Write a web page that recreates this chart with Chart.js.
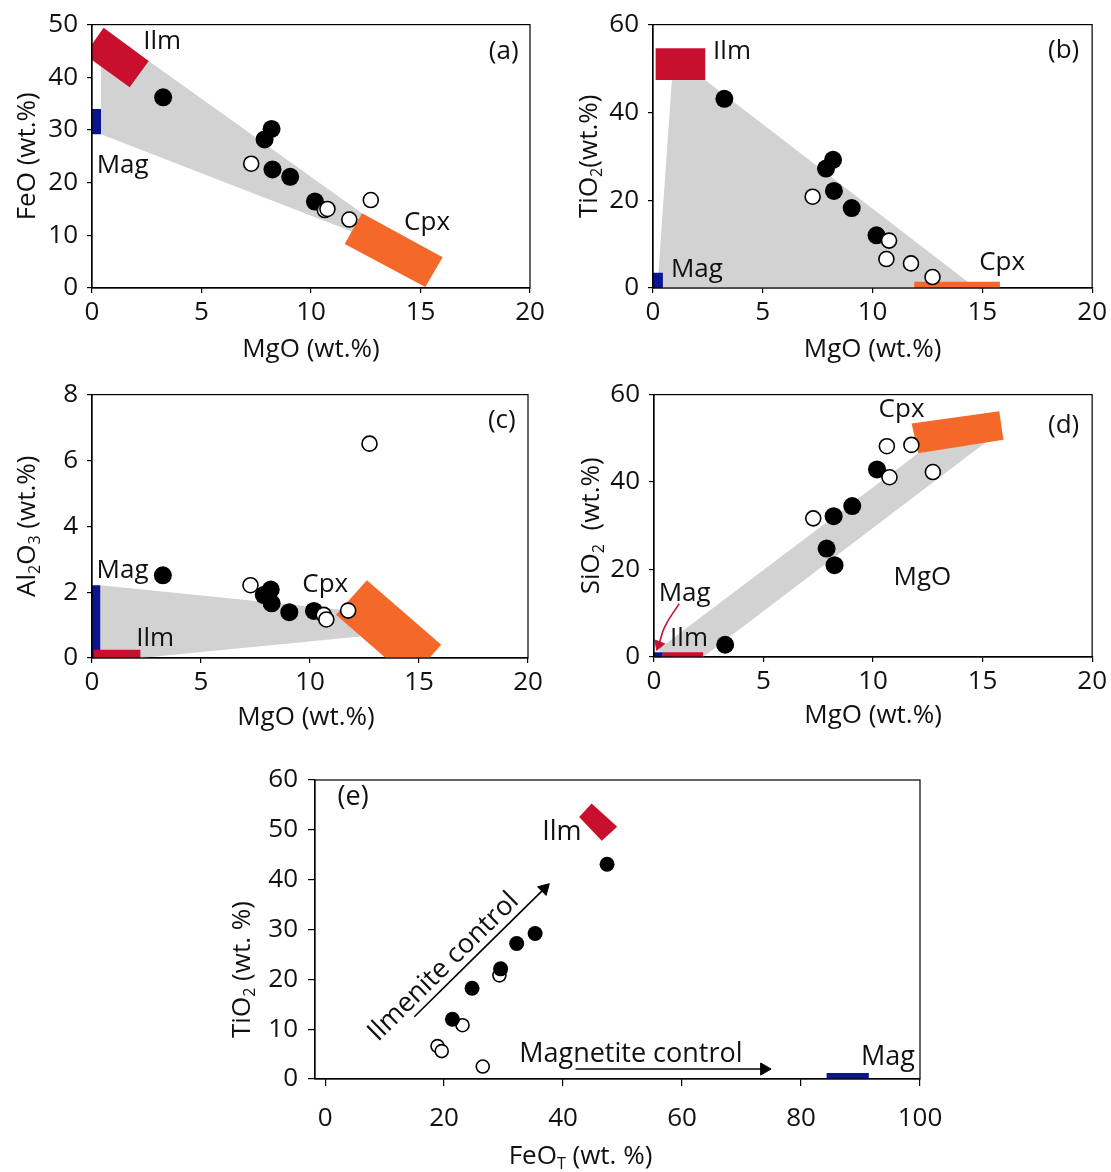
<!DOCTYPE html>
<html>
<head>
<meta charset="utf-8">
<script src="https://cdn.jsdelivr.net/npm/chart.js@4.4.1/dist/chart.umd.min.js"></script>
<style>
  body { margin: 0; background: #fff; width: 1111px; height: 1172px; position: relative; overflow: hidden; }
  canvas { position: absolute; }
</style>
</head>
<body>
<canvas id="pa" width="555" height="370" style="left:0;top:0"></canvas>
<canvas id="pb" width="551" height="370" style="left:560px;top:0"></canvas>
<canvas id="pc" width="555" height="370" style="left:0;top:370px"></canvas>
<canvas id="pd" width="551" height="370" style="left:560px;top:370px"></canvas>
<canvas id="pe" width="760" height="432" style="left:200px;top:740px"></canvas>
<script>
// samples: filled circles and open circles (same order in every panel)
const mgoFilled = [3.25, 7.88, 8.2, 8.24, 9.05, 10.18];
const mgoOpen = [7.27, 10.63, 10.75, 11.75, 12.73];
const feoFilled = [36.2, 28.2, 30.2, 22.5, 21.1, 16.4];
const feoOpen = [23.6, 14.8, 15.0, 13.0, 16.7];
const tio2Filled = [43.1, 27.2, 29.2, 22.1, 18.2, 12.0];
const tio2Open = [20.8, 6.6, 10.8, 5.6, 2.5];
const al2o3Filled = [2.51, 1.91, 2.08, 1.66, 1.39, 1.43];
const al2o3Open = [2.21, 1.31, 1.17, 1.44, 6.51];
const sio2Filled = [2.8, 24.8, 32.2, 21.0, 34.5, 42.9];
const sio2Open = [31.7, 48.2, 41.1, 48.5, 42.3];
const feotFilled = [47.4, 32.2, 35.3, 29.5, 24.7, 21.4];
const feotOpen = [29.3, 18.9, 23.1, 19.6, 26.5];

// tick labels
const mgoTicks = [0, 5, 10, 15, 20];
const feoTicks = [0, 10, 20, 30, 40, 50];
const tio2Ticks = [0, 20, 40, 60];
const al2o3Ticks = [0, 2, 4, 6, 8];
const sio2Ticks = [0, 20, 40, 60];
const feotTicks = [0, 20, 40, 60, 80, 100];
const tio2TicksE = [0, 10, 20, 30, 40, 50, 60];

// mineral end-member ranges and mixing fields (corners, wt.%)
const ilmA = [[0.53, 49.4], [2.59, 43.1], [1.72, 38.1], [-0.34, 44.3]];
const magA = [[0, 34.0], [0.41, 34.0], [0.41, 29.2], [0, 29.2]];
const cpxA = [[12.33, 14.2], [16.01, 5.85], [15.22, 0.19], [11.54, 8.36]];
const fieldA = [[0.41, 42.0], [2.59, 43.1], [12.7, 13.1], [11.95, 10.6], [0.41, 29.2]];

const ilmB = [[0.12, 54.6], [2.38, 54.6], [2.38, 47.4], [0.12, 47.4]];
const magB = [[0, 3.5], [0.45, 3.5], [0.45, 0], [0, 0]];
const cpxB = [[11.9, 1.4], [15.8, 1.4], [15.8, 0], [11.9, 0]];
const fieldB = [[0.86, 47.4], [2.38, 47.4], [14.7, 0], [0.2, 0]];

const ilmC = [[0.08, 0.25], [2.22, 0.25], [2.22, 0], [0.08, 0]];
const magC = [[0, 2.21], [0.38, 2.21], [0.38, 0], [0, 0]];
const cpxC = [[12.61, 2.36], [16.02, 0.4], [14.6, -0.65], [11.19, 1.31]];
const fieldC = [[0.38, 2.21], [11.7, 1.45], [12.3, 0.65], [2.22, 0], [0.38, 0]];

const ilmD = [[0.4, 1.1], [2.24, 1.1], [2.24, 0], [0.4, 0]];
const magD = [[0, 1.1], [0.4, 1.1], [0.4, 0], [0, 0]];
const cpxD = [[11.76, 53.4], [15.76, 56.2], [15.95, 49.7], [12.06, 46.6]];
const fieldD = [[0.2, 1.8], [12.06, 46.6], [15.3, 49.7], [2.24, 0], [0.4, 0]];
const magArrowD = [[1.15, 12.2], [0.5, 7.0], [0.22, 2.8]];

const ilmE = [[44.8, 55.3], [49.1, 50.6], [46.5, 47.8], [42.7, 52.6]];
const magE = [[84.3, 1.2], [91.4, 1.2], [91.4, 0], [84.3, 0]];
const ilmControl = [[15.0, 12.5], [36.85, 38.2]];
const magControl = [[42.1, 2.0], [73.8, 2.0]];

const FONT = '"Open Sans", "DejaVu Sans", sans-serif';
const INK = '#111';
const RED = '#c8102e', BLUE = '#0b1590', ORANGE = '#f4692a', GREY = '#d2d2d2';

Chart.defaults.font.family = FONT;
Chart.defaults.color = INK;

const pts = (xs, ys) => xs.map((x, i) => ({ x, y: ys[i] }));
const corners = list => list.map(([x, y]) => ({ x, y }));

function shape(list, color, order) {
  return { type: 'line', data: corners(list), backgroundColor: color, borderColor: 'rgba(0,0,0,0)',
    borderWidth: 0, fill: 'shape', pointRadius: 0, pointHoverRadius: 0, order };
}

function arrow(list, color, rot, r, order) {
  const d = corners(list);
  return { type: 'line', data: d, borderColor: color, borderWidth: 1.6, tension: 0.45, fill: false,
    pointRadius: d.map((_, i) => i === d.length - 1 ? r : 0), pointStyle: 'triangle', pointRotation: rot,
    pointBackgroundColor: color, pointBorderColor: color, pointBorderWidth: 1, clip: false, order };
}

function dots(xs, ys, open, r, order) {
  return { type: 'scatter', data: pts(xs, ys), pointRadius: r, pointHoverRadius: r,
    pointBackgroundColor: open ? '#fff' : '#000', pointBorderColor: '#000',
    pointBorderWidth: open ? 1.6 : 0, order };
}

function rich(ctx, parts, x, y, size, angle) {
  const sub = size * 0.62;
  ctx.save();
  ctx.translate(x, y);
  ctx.rotate(angle || 0);
  ctx.textBaseline = 'middle';
  ctx.fillStyle = INK;
  let w = 0;
  parts.forEach(([t, s]) => { ctx.font = (s ? sub : size) + 'px ' + FONT; w += ctx.measureText(t).width; });
  let cx = -w / 2;
  parts.forEach(([t, s]) => {
    ctx.font = (s ? sub : size) + 'px ' + FONT;
    ctx.fillText(t, cx, s ? size * 0.3 : 0);
    cx += ctx.measureText(t).width;
  });
  ctx.restore();
}

const frame = {
  id: 'frame',
  afterDatasetsDraw(c) {
    const { left, top, right, bottom } = c.chartArea;
    c.ctx.save();
    c.ctx.strokeStyle = '#000';
    c.ctx.lineWidth = 1.2;
    c.ctx.strokeRect(left, top, right - left, bottom - top);
    c.ctx.restore();
  }
};

function texts(p) {
  return {
    id: 'texts',
    afterDraw(c) {
      const { ctx, chartArea: a, scales: { x, y } } = c;
      p.notes.forEach(n => {
        let rot = 0;
        if (n.along) {
          const [p0, p1] = n.along;
          rot = Math.atan2(y.getPixelForValue(p1[1]) - y.getPixelForValue(p0[1]),
                           x.getPixelForValue(p1[0]) - x.getPixelForValue(p0[0]));
        }
        rich(ctx, n.t, x.getPixelForValue(n.x), y.getPixelForValue(n.y), p.nfs, rot);
      });
      rich(ctx, p.xTitle, (a.left + a.right) / 2 + (p.xdx || 0), a.bottom + p.xdy, p.fs, 0);
      rich(ctx, p.yTitle, a.left - p.ydx, (a.top + a.bottom) / 2 + (p.ydy || 0), p.fs, -Math.PI / 2);
    }
  };
}

function draw(p) {
  const tickAxis = (range, ticks, fit, pad) => ({
    type: 'linear', min: range[0], max: range[1],
    afterBuildTicks: s => { s.ticks = ticks.map(v => ({ value: v })); },
    afterFit: fit,
    grid: { drawOnChartArea: false, drawTicks: true, tickLength: p.tick, color: '#000', lineWidth: 1.2 },
    border: { display: true, color: '#000', width: 1.2 },
    ticks: { padding: pad, color: INK, font: { size: p.fs }, autoSkip: false, maxRotation: 0 }
  });
  new Chart(document.getElementById(p.id), {
    type: 'scatter',
    data: { datasets: p.datasets },
    options: {
      responsive: false, animation: false, devicePixelRatio: 1,
      layout: { padding: { left: 0, top: p.pt, right: p.pr, bottom: 0 } },
      plugins: { legend: { display: false }, tooltip: { enabled: false } },
      scales: {
        x: tickAxis(p.xr, p.xt, s => { s.height = p.xh; }, p.xpad),
        y: tickAxis(p.yr, p.yt, s => { s.width = p.yw; }, p.ypad)
      }
    },
    plugins: [frame, texts(p)]
  });
}

const wt = ' (wt.%)';
const base = { fs: 26, nfs: 26, tick: 5, xpad: 4, ypad: 9 };

draw({ ...base, id: 'pa', xr: [0, 20], xt: mgoTicks, yr: [0, 50], yt: feoTicks,
  yw: 92, xh: 82, pt: 23, pr: 25,
  xTitle: [['MgO' + wt]], xdy: 62, yTitle: [['FeO' + wt]], ydx: 64,
  notes: [{ t: [['Ilm']], x: 3.2, y: 46.8 }, { t: [['Mag']], x: 1.4, y: 23.2 },
          { t: [['Cpx']], x: 15.3, y: 12.5 }, { t: [['(a)']], x: 18.8, y: 44.9 }],
  datasets: [dots(mgoOpen, feoOpen, true, 7.5, 0), dots(mgoFilled, feoFilled, false, 9, 1),
    shape(ilmA, RED, 3), shape(magA, BLUE, 3), shape(cpxA, ORANGE, 3), shape(fieldA, GREY, 5)] });

draw({ ...base, id: 'pb', xr: [0, 20], xt: mgoTicks, yr: [0, 60], yt: tio2Ticks,
  yw: 93, xh: 82, pt: 23, pr: 18,
  xTitle: [['MgO' + wt]], xdy: 62, yTitle: [['TiO'], ['2', 1], ['(wt.%)']], ydx: 63,
  notes: [{ t: [['Ilm']], x: 3.6, y: 53.9 }, { t: [['Mag']], x: 2.0, y: 4.1 },
          { t: [['Cpx']], x: 15.9, y: 5.7 }, { t: [['(b)']], x: 18.7, y: 54.1 }],
  datasets: [dots(mgoOpen, tio2Open, true, 7.5, 0), dots(mgoFilled, tio2Filled, false, 9, 1),
    shape(ilmB, RED, 3), shape(magB, BLUE, 3), shape(cpxB, ORANGE, 3), shape(fieldB, GREY, 5)] });

draw({ ...base, id: 'pc', xr: [0, 20], xt: mgoTicks, yr: [0, 8], yt: al2o3Ticks,
  yw: 92, xh: 82, pt: 23, pr: 27,
  xTitle: [['MgO' + wt]], xdy: 60, xdx: -4, yTitle: [['Al'], ['2', 1], ['O'], ['3', 1], [wt]], ydx: 64,
  notes: [{ t: [['Mag']], x: 1.4, y: 2.66 }, { t: [['Ilm']], x: 2.9, y: 0.6 },
          { t: [['Cpx']], x: 10.7, y: 2.24 }, { t: [['(c)']], x: 18.8, y: 7.2 }],
  datasets: [dots(mgoOpen, al2o3Open, true, 7.5, 0), dots(mgoFilled, al2o3Filled, false, 9, 1),
    shape(ilmC, RED, 3), shape(magC, BLUE, 3), shape(cpxC, ORANGE, 3), shape(fieldC, GREY, 5)] });

draw({ ...base, id: 'pd', xr: [0, 20], xt: mgoTicks, yr: [0, 60], yt: sio2Ticks,
  yw: 94, xh: 83, pt: 22, pr: 18,
  xTitle: [['MgO' + wt]], xdy: 59, yTitle: [['SiO'], ['2', 1], ['  (wt.%)']], ydx: 62,
  notes: [{ t: [['Cpx']], x: 11.3, y: 56.6 }, { t: [['(d)']], x: 18.7, y: 53.0 },
          { t: [['MgO']], x: 12.25, y: 18.1 }, { t: [['Mag']], x: 1.4, y: 14.5 },
          { t: [['Ilm']], x: 1.6, y: 4.1 }],
  datasets: [dots(mgoOpen, sio2Open, true, 7.5, 0), dots(mgoFilled, sio2Filled, false, 9, 1),
    arrow(magArrowD, RED, 201, 6, 2),
    shape(ilmD, RED, 3), shape(magD, BLUE, 3), shape(cpxD, ORANGE, 3), shape(fieldD, GREY, 5)] });

draw({ ...base, id: 'pe', fs: 26, nfs: 27, tick: 7, xpad: 17, ypad: 10,
  xr: [-1.7, 100], xt: feotTicks, yr: [0, 60], yt: tio2TicksE,
  yw: 115, xh: 93, pt: 40, pr: 40,
  xTitle: [['FeO'], ['T', 1], [' (wt. %)']], xdy: 78, xdx: -37,
  yTitle: [['TiO'], ['2', 1], [' (wt. %)']], ydx: 72, ydy: 40,
  notes: [{ t: [['Ilm']], x: 39.8, y: 49.6 }, { t: [['Mag']], x: 94.6, y: 4.4 },
          { t: [['(e)']], x: 4.7, y: 56.6 }, { t: [['Magnetite control']], x: 51.4, y: 5.0 },
          { t: [['Ilmenite control']], x: 19.9, y: 22.5, along: ilmControl }],
  datasets: [dots(feotFilled, tio2Filled, false, 7.5, 0), dots(feotOpen, tio2Open, true, 6.5, 1),
    arrow(ilmControl, '#000', 45.5, 7, 2), arrow(magControl, '#000', 90, 7, 2),
    shape(ilmE, RED, 3), shape(magE, BLUE, 3)] });
</script>
</body>
</html>
